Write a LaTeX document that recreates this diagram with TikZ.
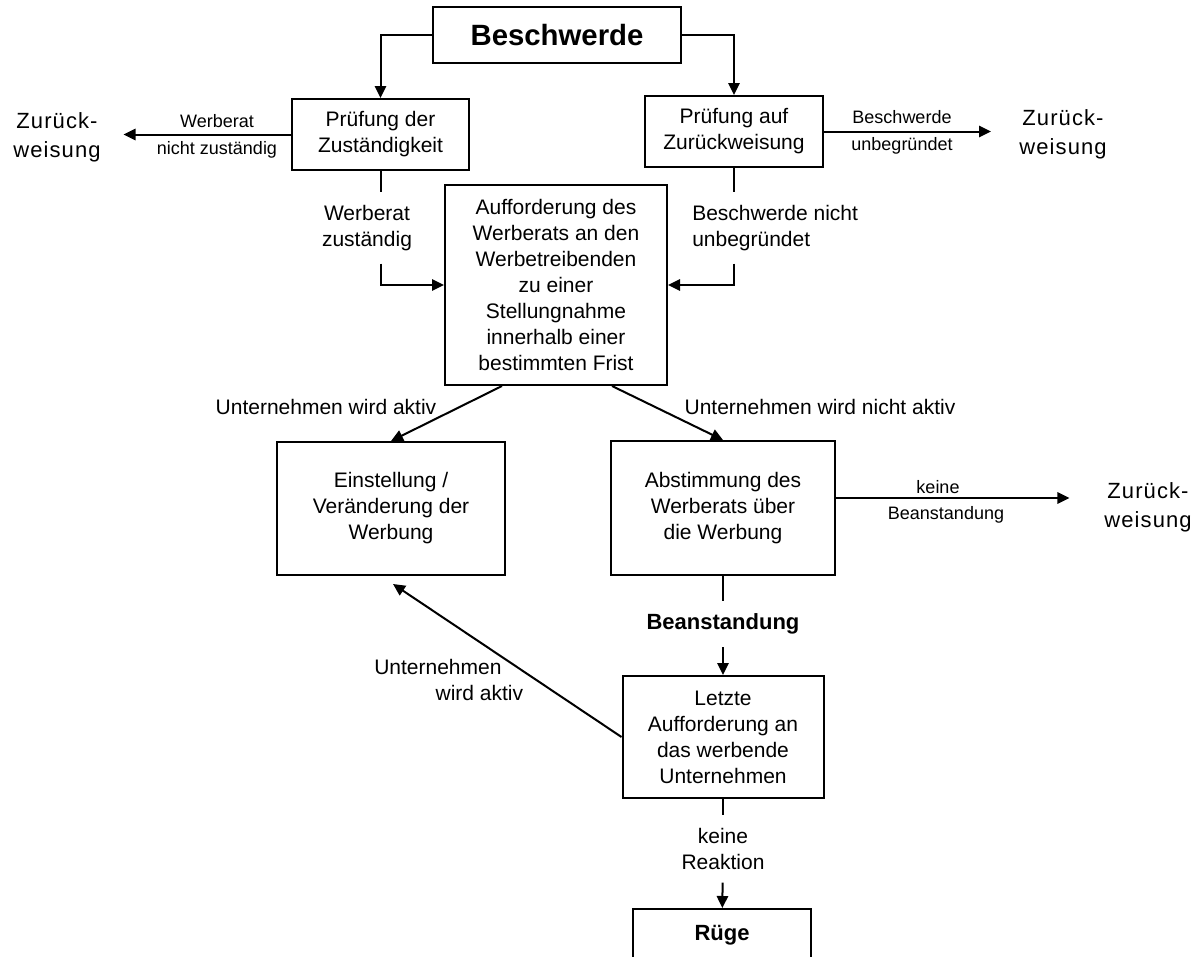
\documentclass[tikz,border=0pt]{standalone}
\usepackage{fontspec}
\setmainfont{Liberation Sans}
\newfontfamily\zfamily[LetterSpace=5]{Liberation Sans}
\usetikzlibrary{arrows.meta,calc}

\newcommand{\kastenfont}{\fontsize{15.75}{19.5}\selectfont}
\newcommand{\kleinfont}{\fontsize{13.5}{16}\selectfont}
\newcommand{\zurueckfont}{\zfamily\fontsize{16.5}{21.5}\selectfont}

\begin{document}
\begin{tikzpicture}[x=0.75pt,y=0.75pt,yscale=-1,xscale=1,
  kasten/.style={draw, line width=1.5pt, align=center, inner sep=0pt, font=\kastenfont},
  linie/.style={line width=1.5pt},
  pfeil/.style={line width=1.5pt, -{Triangle[length=9pt,width=8.5pt]}},
  klein/.style={font=\kleinfont, inner sep=0pt},
  zurueck/.style={align=center, font=\zurueckfont, inner sep=0pt},
  luecke/.style={align=center, font=\kastenfont, inner xsep=0pt, inner ysep=9.5pt},
  kante/.style={align=center, font=\kastenfont, inner sep=0pt}]
\useasboundingbox (0,0) rectangle (1204,957);

%Shape: Rectangle
\draw (557,35) node (besch) [kasten, minimum width=186pt, minimum height=42pt, font=\fontsize{22}{26}\selectfont\bfseries] {Beschwerde};
%Shape: Rectangle
\draw (380.5,134.5) node (pz) [kasten, minimum width=132.75pt, minimum height=53.25pt] {Prüfung der\\Zuständigkeit};
%Shape: Rectangle
\draw (734,131.5) node (pa) [kasten, minimum width=133.5pt, minimum height=53.25pt] {Prüfung auf\\Zurückweisung};
%Shape: Rectangle
\draw (556,285) node (auf) [kasten, minimum width=166.5pt, minimum height=150pt] {Aufforderung des\\Werberats an den\\Werbetreibenden\\zu einer\\Stellungnahme\\innerhalb einer\\bestimmten Frist};
%Shape: Rectangle
\draw (391,508.5) node (ei) [kasten, minimum width=171pt, minimum height=99.75pt] {Einstellung /\\Veränderung der\\Werbung};
%Shape: Rectangle
\draw (723,508) node (ab) [kasten, minimum width=168pt, minimum height=100.5pt] {Abstimmung des\\Werberats über\\die Werbung};
%Shape: Rectangle
\draw (723,737) node (le) [kasten, minimum width=150.75pt, minimum height=91.5pt] {Letzte\\Aufforderung an\\das werbende\\Unternehmen};
%Shape: Rectangle
\draw (722,935) node (ru) [kasten, minimum width=133.5pt, minimum height=39pt, font=\fontsize{16.5}{20}\selectfont\bfseries] {Rüge};

% Text Node
\draw (57,137) node (zl) [zurueck] {Zurück-\\weisung};
% Text Node
\draw (1063,134) node (zr) [zurueck] {Zurück-\\weisung};
% Text Node
\draw (1148,507) node (zu) [zurueck] {Zurück-\\weisung};
% Text Node
\draw (217,121) node (wb) [klein] {Werberat};
% Text Node
\draw (217,150) node (nz) [klein] {nicht zuständig};
% Text Node
\draw (902,117) node (bw) [klein] {Beschwerde};
% Text Node
\draw (902,146) node (ub) [klein] {unbegründet};
% Text Node
\draw (938,487) node (kb) [klein] {keine};
% Text Node
\draw (946,515) node (bs) [klein] {Beanstandung};
% Text Node
\draw (367,228) node (lz) [luecke] {Werberat\\zuständig};
% Text Node
\draw (692,228) node (rl) [luecke, anchor=west, align=left] {Beschwerde nicht\\unbegründet};
% Text Node
\draw (723,624) node (bz) [luecke, font=\fontsize{16.5}{20}\selectfont\bfseries] {Beanstandung};
% Text Node
\draw (723,849) node (kr) [luecke] {keine\\Reaktion};
% Text Node
\draw (326,407) node (lua) [kante] {Unternehmen wird aktiv};
% Text Node
\draw (820,407) node (lun) [kante] {Unternehmen wird nicht aktiv};
% Text Node
\draw (374,680) node (lub) [kante, anchor=west, align=left] {Unternehmen\\\hspace*{46pt}wird aktiv};

%Straight Lines
\draw [pfeil] (besch.west) -| (pz.north);
\draw [pfeil] (besch.east) -| (pa.north);
\draw [pfeil, shorten >=17pt] (pz.west) -- (pz.west -| zl.east);
\draw [pfeil, shorten >=21pt] (pa.east) -- (pa.east -| zr.west);
\draw [linie] (pz.south) -- (pz.south |- lz.north);
\draw [pfeil] (pz.south |- lz.south) |- (auf.west);
\draw [linie] (pa.south) -- (pa.south |- rl.north);
\draw [pfeil] (pa.south |- rl.south) |- (auf.east);
\draw [pfeil] ($(auf.south)+(-54,0)$) -- (ei.north);
\draw [pfeil] ($(auf.south)+(56,0)$) -- (ab.north);
\coordinate (abe) at ($(ab.east)+(0,-10)$);
\draw [pfeil, shorten >=26pt] (abe) -- (abe -| zu.west);
\draw [linie] (ab) -- (bz);
\draw [pfeil] (bz) -- (le);
\draw [pfeil] (le.west) -- ($(ei.south)+(2,8)$);
\draw [linie] (le) -- (kr);
\draw [pfeil] (kr) -- (ru);

\end{tikzpicture}
\end{document}
